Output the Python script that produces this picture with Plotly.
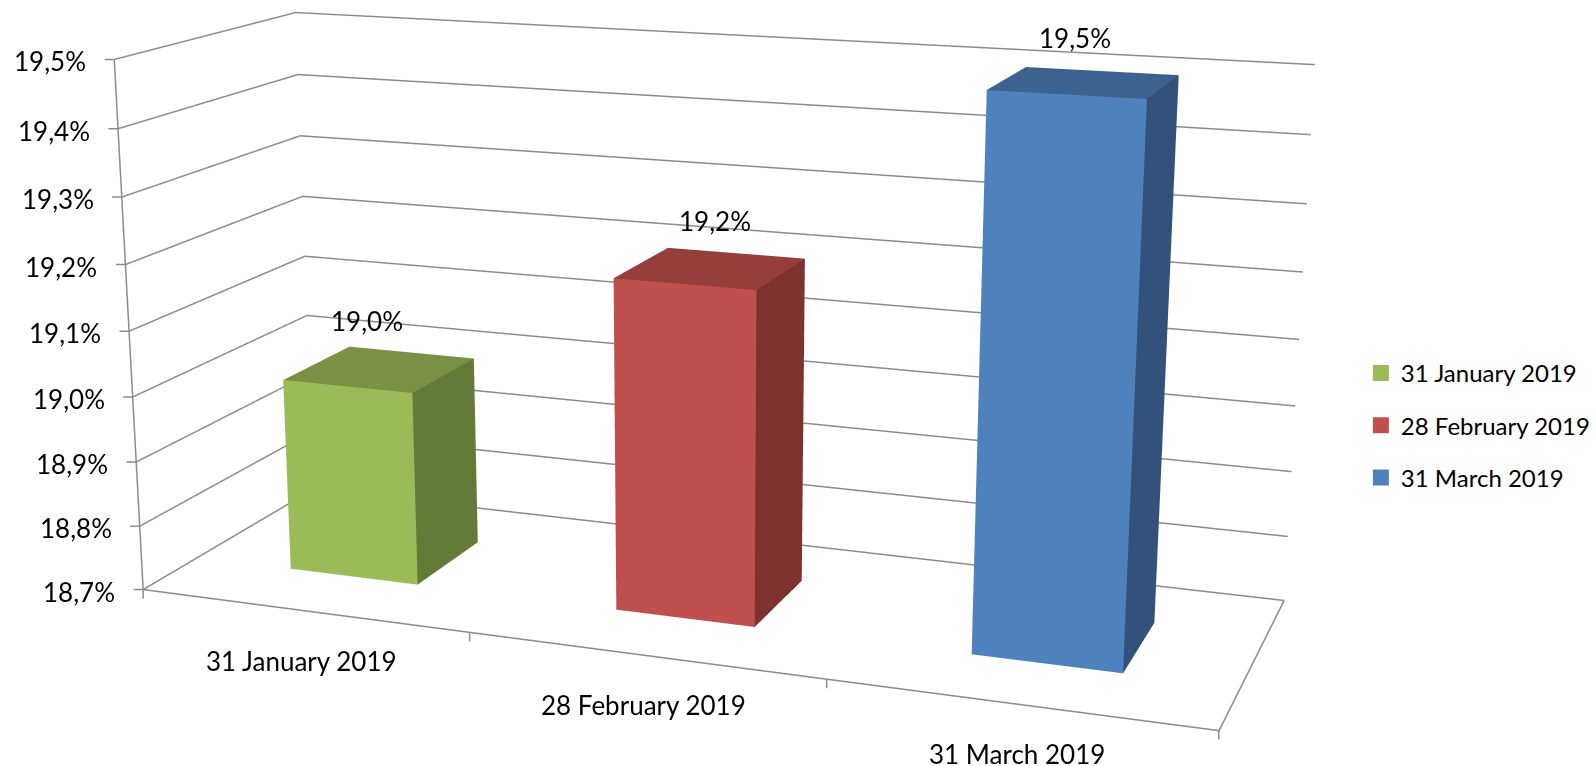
import plotly.graph_objects as go

categories = ["31 January 2019", "28 February 2019", "31 March 2019"]
values = [19.0, 19.2, 19.5]
z_ticks = [18.7, 18.8, 18.9, 19.0, 19.1, 19.2, 19.3, 19.4, 19.5]
front = ["#9BBB59", "#C0504D", "#4F81BD"]
top = ["#7A9145", "#953E3C", "#3C6290"]
side = ["#647A38", "#7D3230", "#32527B"]
label_dx = [-13, 4, -9]
label_dy = [48, 47, 44]

GRID = "#8C8C8C"
GAP, Y0, Y1 = 0.3, 0.3, 0.7
LW = 3
# The reference has a very long lens; Plotly's field of view is fixed, so a tall
# scene is used and the page shows its middle 766 px.
H = 2320
CX = 703
TOP = H // 2 - 383
EYE = (0.83853, -2.30135, 0.61296)
CENTER = (0.00991, -0.05336, -0.03017)
AY, AZ = 0.33615, 0.49487
PAD = 0.02  # range padding so that lines on the box edge are not clipped
ZMIN, ZMAX = z_ticks[0], z_ticks[-1]
ZPAD = 0.01


def pct(v):
    return ("%.1f%%" % v).replace(".", ",")


fig = go.Figure()
line = dict(color=GRID, width=LW)
for t in z_ticks:
    fig.add_trace(go.Scatter3d(x=[0, 0, 3], y=[0, 1, 1], z=[t, t, t], mode="lines", line=line,
                               hoverinfo="skip", showlegend=False))
fig.add_trace(go.Scatter3d(x=[0, 0], y=[0, 0], z=[ZMIN, ZMAX], mode="lines", line=line,
                           hoverinfo="skip", showlegend=False))
fig.add_trace(go.Scatter3d(x=[0, 3, 3], y=[0, 0, 1], z=[ZMIN] * 3, mode="lines", line=line,
                           hoverinfo="skip", showlegend=False))
for i, v in enumerate(values):
    x0, x1 = i + GAP, i + 1 - GAP
    fc = [front[i]] * 2 + [side[i]] * 2 + [top[i]] * 2 + [front[i]] * 2
    fig.add_trace(go.Mesh3d(
        x=[x0, x1, x1, x0, x0, x1, x1, x0],
        y=[Y0, Y0, Y1, Y1, Y0, Y0, Y1, Y1],
        z=[ZMIN] * 4 + [v] * 4,
        i=[0, 0, 1, 1, 4, 4, 3, 3], j=[1, 5, 2, 6, 5, 6, 0, 4], k=[5, 4, 6, 5, 6, 7, 4, 7],
        facecolor=fc, flatshading=True,
        lighting=dict(ambient=1, diffuse=0, specular=0, fresnel=0),
        hoverinfo="skip", showlegend=False))
    fig.add_trace(go.Scatter3d(x=[None], y=[None], z=[None], mode="markers", name=categories[i],
                               legendgroup=categories[i],
                               marker=dict(symbol="square", size=16, color=front[i])))

axis = dict(showbackground=False, showspikes=False, zeroline=False, showticklabels=False,
            title=dict(text=""), showline=False, showgrid=False, ticks="")
tick = dict(text=" ", showarrow=True, arrowhead=0, arrowwidth=1.5, arrowcolor=GRID,
            font=dict(size=1), borderpad=0, standoff=0)
ann = []
for t in z_ticks:
    ann.append(dict(x=0, y=0, z=t, ax=-10, ay=0, **tick))
    ann.append(dict(x=0, y=0, z=t, text=pct(t), showarrow=False, xanchor="right", xshift=-26, yshift=-2))
for k in range(len(categories) + 1):
    ann.append(dict(x=k, y=0, z=ZMIN, ax=0, ay=10, **tick))
for i, c in enumerate(categories):
    ann.append(dict(x=i + 0.5, y=0, z=ZMIN, text=c, showarrow=False, xshift=-1, yshift=-50))
for i, v in enumerate(values):
    ann.append(dict(x=i + 0.5, y=0.5, z=v, text=pct(v), showarrow=False, xshift=label_dx[i], yshift=label_dy[i]))

fig.update_layout(
    width=1596, height=H, margin=dict(l=0, r=0, t=0, b=0), paper_bgcolor="white",
    font=dict(family="Lato", size=26, color="black"),
    legend=dict(x=1366 / 1596, y=1 - (TOP + 351) / H, yanchor="top", font=dict(size=24), tracegroupgap=18),
    scene=dict(
        domain=dict(x=[0, 2 * CX / 1596], y=[0, 1]),
        aspectmode="manual",
        aspectratio=dict(x=(3 + 2 * 3 * PAD) / 3, y=AY * (1 + 2 * PAD), z=AZ * (0.8 + 2 * ZPAD) / 0.8),
        camera=dict(eye=dict(x=EYE[0], y=EYE[1], z=EYE[2]),
                    center=dict(x=CENTER[0], y=CENTER[1], z=CENTER[2]),
                    up=dict(x=0, y=0, z=1), projection=dict(type="perspective")),
        xaxis=dict(axis, range=[-3 * PAD, 3 + 3 * PAD]),
        yaxis=dict(axis, range=[-PAD, 1 + PAD]),
        zaxis=dict(axis, range=[ZMIN - ZPAD, ZMAX + ZPAD]),
        annotations=ann,
    ),
)
fig.write_html(
    "out.html", config={"displayModeBar": False},
    post_script=("var s=document.documentElement.style;s.overflow='hidden';s.height='766px';"
                 "var b=document.body.style;b.margin='0';b.height='766px';b.overflow='hidden';"
                 "document.getElementById('{plot_id}').style.marginTop='-%dpx';" % TOP))
